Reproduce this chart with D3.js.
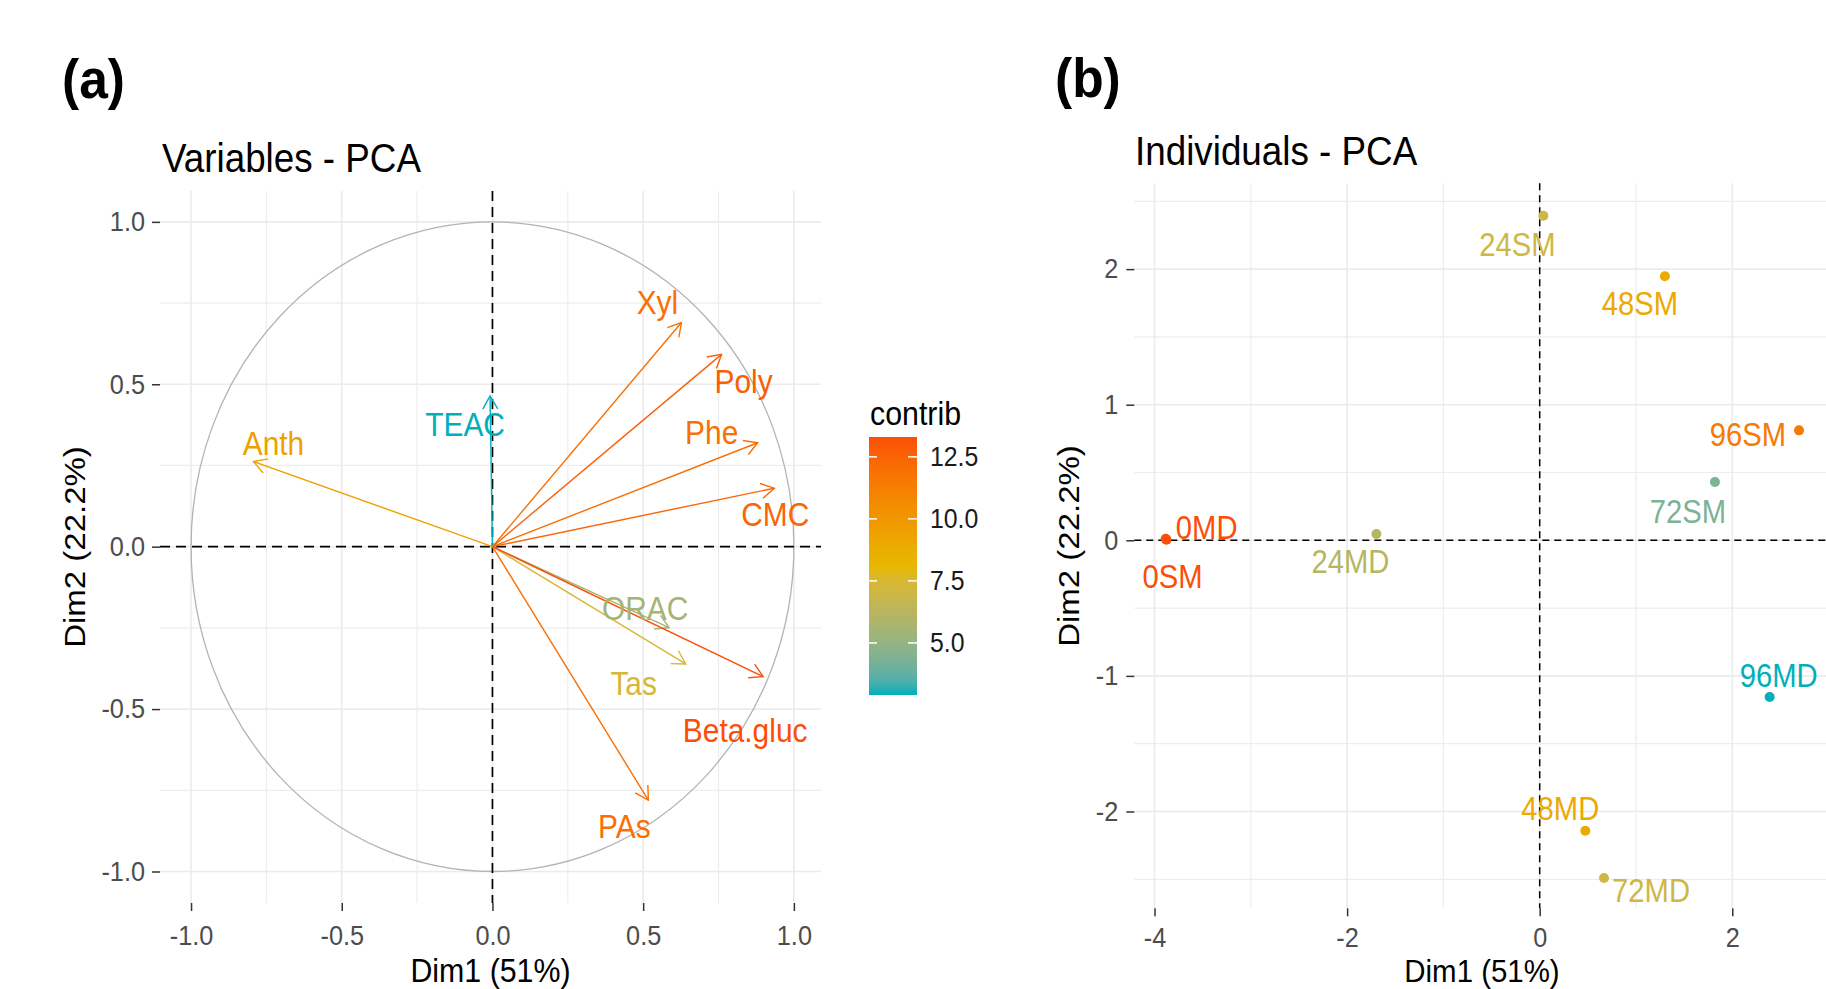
<!DOCTYPE html>
<html><head><meta charset="utf-8">
<script src="https://cdn.jsdelivr.net/npm/d3@7"></script>
<style>
body{margin:0;background:#fff}
svg{display:block}
text{font-family:"Liberation Sans",Arial,Helvetica,sans-serif}
</style>
</head><body>
<svg id="c" width="1826" height="989"></svg>
<script>
// ---------------- DATA ----------------
const varNames   = ["Xyl","Poly","Phe","CMC","TEAC","Anth","ORAC","Tas","Beta.gluc","PAs"];
const varDim1    = [0.627, 0.760, 0.880, 0.935, -0.008, -0.793, 0.586, 0.641, 0.898, 0.517];
const varDim2    = [0.690, 0.592, 0.320, 0.180, 0.464, 0.262, -0.249, -0.361, -0.400, -0.780];
const varContrib = [11.9, 12.7, 12.0, 12.4, 2.9, 9.5, 5.5, 7.4, 13.3, 12.0];

const indNames = ["0MD","0SM","24MD","24SM","48SM","72SM","96SM","96MD","48MD","72MD"];
const indDim1  = [-3.884, -3.876, -1.696, 0.038, 1.300, 1.820, 2.693, 2.388, 0.474, 0.668];
const indDim2  = [0.012, 0.004, 0.046, 2.394, 1.947, 0.430, 0.811, -1.156, -2.142, -2.490];
const indCos2  = [0.98, 0.98, 0.58, 0.63, 0.74, 0.48, 0.88, 0.40, 0.74, 0.63];

const varTicks  = [-1, -0.5, 0, 0.5, 1];
const varMinor  = [-0.75, -0.25, 0.25, 0.75];
const indXTicks = [-4, -2, 0, 2];
const indXMinor = [-3, -1, 1, 3];
const indYTicks = [-2, -1, 0, 1, 2];
const indYMinor = [-2.5, -1.5, -0.5, 0.5, 1.5, 2.5];
const legendTicks = [5, 7.5, 10, 12.5];
const gradientColors = ["#00AFBB", "#E7B800", "#FC4E07"];

// ---------------- LAYOUT (label placement, px) ----------------
const varLabelNudge = {
  "Xyl":[-24,-9], "Poly":[22,39], "Phe":[-46,1], "CMC":[1,38], "TEAC":[-25,40],
  "Anth":[20,-7], "ORAC":[-24,-8], "Tas":[-52,31], "Beta.gluc":[-18,65], "PAs":[-24,38]
};
const indLabelNudge = {
  "0MD":[41,0], "0SM":[6,48], "24MD":[-26,39], "24SM":[-26,40], "48SM":[-25,39],
  "72SM":[-27,41], "96SM":[-51,16], "96MD":[9,-10], "48MD":[-25,-11], "72MD":[47,24]
};

const SX = 0.92;
const svg = d3.select("#c");
svg.append("rect").attr("width", 1826).attr("height", 989).attr("fill", "#fff");

function txt(g, x, y, str, o) {
  const t = g.append("text")
    .attr("transform", `translate(${x},${y}) scale(${o.sx || SX},1)` + (o.rot ? ` rotate(${o.rot})` : ""))
    .attr("text-anchor", o.anchor || "start")
    .attr("font-size", o.size)
    .attr("fill", o.fill || "#000")
    .text(str);
  if (o.weight) t.attr("font-weight", o.weight);
  return t;
}

function makeColor(values) {
  const [lo, hi] = d3.extent(values);
  return d3.scaleLinear().domain([lo, (lo + hi) / 2, hi]).range(gradientColors).interpolate(d3.interpolateLab);
}

function panelFrame(g, x, y, xt, xm, yt, ym, fmt, o) {
  const [x0, x1] = x.range(), [y1, y0] = y.range();
  const grid = g.append("g");
  grid.selectAll(".vm").data(xm).join("line")
    .attr("x1", d => x(d)).attr("x2", d => x(d)).attr("y1", y0).attr("y2", y1)
    .attr("stroke", "#EDEDED").attr("stroke-width", 1.2);
  grid.selectAll(".hm").data(ym).join("line")
    .attr("y1", d => y(d)).attr("y2", d => y(d)).attr("x1", x0).attr("x2", x1)
    .attr("stroke", "#EDEDED").attr("stroke-width", 1.2);
  grid.selectAll(".vM").data(xt).join("line")
    .attr("x1", d => x(d)).attr("x2", d => x(d)).attr("y1", y0).attr("y2", y1)
    .attr("stroke", "#EBEBEB").attr("stroke-width", 1.6);
  grid.selectAll(".hM").data(yt).join("line")
    .attr("y1", d => y(d)).attr("y2", d => y(d)).attr("x1", x0).attr("x2", x1)
    .attr("stroke", "#EBEBEB").attr("stroke-width", 1.6);

  const axL = g.append("g").attr("transform", `translate(${x0},0)`)
    .call(d3.axisLeft(y).tickValues(yt).tickFormat(fmt).tickSize(8).tickPadding(o.padL));
  axL.select(".domain").remove();
  axL.selectAll(".tick line").attr("stroke", "#333").attr("stroke-width", 1.5);
  axL.selectAll(".tick text").attr("font-size", 27.5).attr("fill", "#4D4D4D")
    .each(function () {
      const s = d3.select(this); const xx = +s.attr("x");
      s.attr("x", 0).attr("transform", `translate(${xx},0) scale(${SX},1)`);
    });
  const axB = g.append("g").attr("transform", `translate(0,${y1})`)
    .call(d3.axisBottom(x).tickValues(xt).tickFormat(fmt).tickSize(8).tickPadding(o.padB));
  axB.select(".domain").remove();
  axB.selectAll(".tick line").attr("stroke", "#333").attr("stroke-width", 1.5);
  axB.selectAll(".tick text").attr("font-size", 27.5).attr("fill", "#4D4D4D")
    .attr("transform", `scale(${SX},1)`);
}

function zeroLines(g, x, y, dash, w) {
  const [x0, x1] = x.range(), [yb, yt] = y.range();
  g.append("line").attr("x1", x0).attr("x2", x1).attr("y1", y(0)).attr("y2", y(0))
    .attr("stroke", "#000").attr("stroke-width", w).attr("stroke-dasharray", dash);
  g.append("line").attr("x1", x(0)).attr("x2", x(0)).attr("y1", yt).attr("y2", yb)
    .attr("stroke", "#000").attr("stroke-width", w).attr("stroke-dasharray", dash);
}

// ---------------- PANEL (a) ----------------
const gA = svg.append("g");
const xA = d3.scaleLinear().domain([-1.103, 1.09]).range([160, 821]);
const yA = d3.scaleLinear().domain([-1.097, 1.095]).range([903, 191]);
panelFrame(gA, xA, yA, varTicks, varMinor, varTicks, varMinor, d => d.toFixed(1), {padL: 7, padB: 14});

gA.append("ellipse").attr("cx", xA(0)).attr("cy", yA(0))
  .attr("rx", xA(1) - xA(0)).attr("ry", yA(0) - yA(1))
  .attr("fill", "none").attr("stroke", "#B3B3B3").attr("stroke-width", 1.3);
zeroLines(gA, xA, yA, "10,6", 1.7);

const colA = makeColor(varContrib);
varNames.forEach((n, i) => {
  const x1 = xA(0), y1 = yA(0), x2 = xA(varDim1[i]), y2 = yA(varDim2[i]);
  const c = colA(varContrib[i]);
  gA.append("line").attr("x1", x1).attr("y1", y1).attr("x2", x2).attr("y2", y2)
    .attr("stroke", c).attr("stroke-width", 1.4);
  const a = Math.atan2(y2 - y1, x2 - x1), L = 15, th = Math.PI / 6;
  const p1 = [x2 - L * Math.cos(a - th), y2 - L * Math.sin(a - th)];
  const p2 = [x2 - L * Math.cos(a + th), y2 - L * Math.sin(a + th)];
  gA.append("path").attr("d", `M${p1[0]},${p1[1]}L${x2},${y2}L${p2[0]},${p2[1]}`)
    .attr("fill", "none").attr("stroke", c).attr("stroke-width", 1.4);
});
varNames.forEach((n, i) => {
  const nd = varLabelNudge[n];
  txt(gA, xA(varDim1[i]) + nd[0], yA(varDim2[i]) + nd[1], n,
    {size: 32.5, anchor: "middle", fill: colA(varContrib[i])});
});

// legend
const lg = svg.append("g");
const ly = d3.scaleLinear().domain(d3.extent(varContrib)).range([695, 437]);
const grad = svg.append("defs").append("linearGradient").attr("id", "lgGrad")
  .attr("x1", 0).attr("y1", 1).attr("x2", 0).attr("y2", 0);
d3.range(0, 1.0001, 0.05).forEach(t => {
  const [lo, hi] = d3.extent(varContrib);
  grad.append("stop").attr("offset", t).attr("stop-color", colA(lo + t * (hi - lo)));
});
const bx = 869, bw = 48;
lg.append("rect").attr("x", bx).attr("y", ly.range()[1]).attr("width", bw)
  .attr("height", ly.range()[0] - ly.range()[1]).attr("fill", "url(#lgGrad)");
legendTicks.forEach(v => {
  lg.append("line").attr("x1", bx).attr("x2", bx + 8).attr("y1", ly(v)).attr("y2", ly(v))
    .attr("stroke", "#fff").attr("stroke-width", 1.5);
  lg.append("line").attr("x1", bx + bw - 9).attr("x2", bx + bw).attr("y1", ly(v)).attr("y2", ly(v))
    .attr("stroke", "#fff").attr("stroke-width", 1.5);
  txt(lg, 930, ly(v) + 9.5, v.toFixed(1), {size: 27, fill: "#1A1A1A"});
});
txt(lg, 870, 425, "contrib", {size: 33});

// titles (a)
txt(svg, 62, 98, "(a)", {size: 56, weight: "bold"});
txt(svg, 162, 172, "Variables - PCA", {size: 40});
txt(svg, 85, 547, "Dim2 (22.2%)", {size: 33, anchor: "middle", rot: -90});
txt(svg, 490.5, 982, "Dim1 (51%)", {size: 33, anchor: "middle"});

// ---------------- PANEL (b) ----------------
const gB = svg.append("g");
const xB = d3.scaleLinear().domain([-4.21, 3.02]).range([1134.3, 1830.5]);
const yB = d3.scaleLinear().domain([-2.714, 2.633]).range([908.3, 183.3]);
panelFrame(gB, xB, yB, indXTicks, indXMinor, indYTicks, indYMinor, d => String(d), {padL: 8, padB: 11});
zeroLines(gB, xB, yB, "7,5", 1.5);

const colB = makeColor(indCos2);
indNames.forEach((n, i) => {
  gB.append("circle").attr("cx", xB(indDim1[i])).attr("cy", yB(indDim2[i])).attr("r", 5)
    .attr("fill", colB(indCos2[i]));
});
indNames.forEach((n, i) => {
  const nd = indLabelNudge[n];
  txt(gB, xB(indDim1[i]) + nd[0], yB(indDim2[i]) + nd[1], n,
    {size: 34, sx: 0.86, anchor: "middle", fill: colB(indCos2[i])});
});

txt(svg, 1055, 97, "(b)", {size: 56, weight: "bold"});
txt(svg, 1135, 165, "Individuals - PCA", {size: 40});
txt(svg, 1079, 546, "Dim2 (22.2%)", {size: 33, anchor: "middle", rot: -90});
txt(svg, 1482, 982, "Dim1 (51%)", {size: 32, anchor: "middle"});
</script>
</body></html>
